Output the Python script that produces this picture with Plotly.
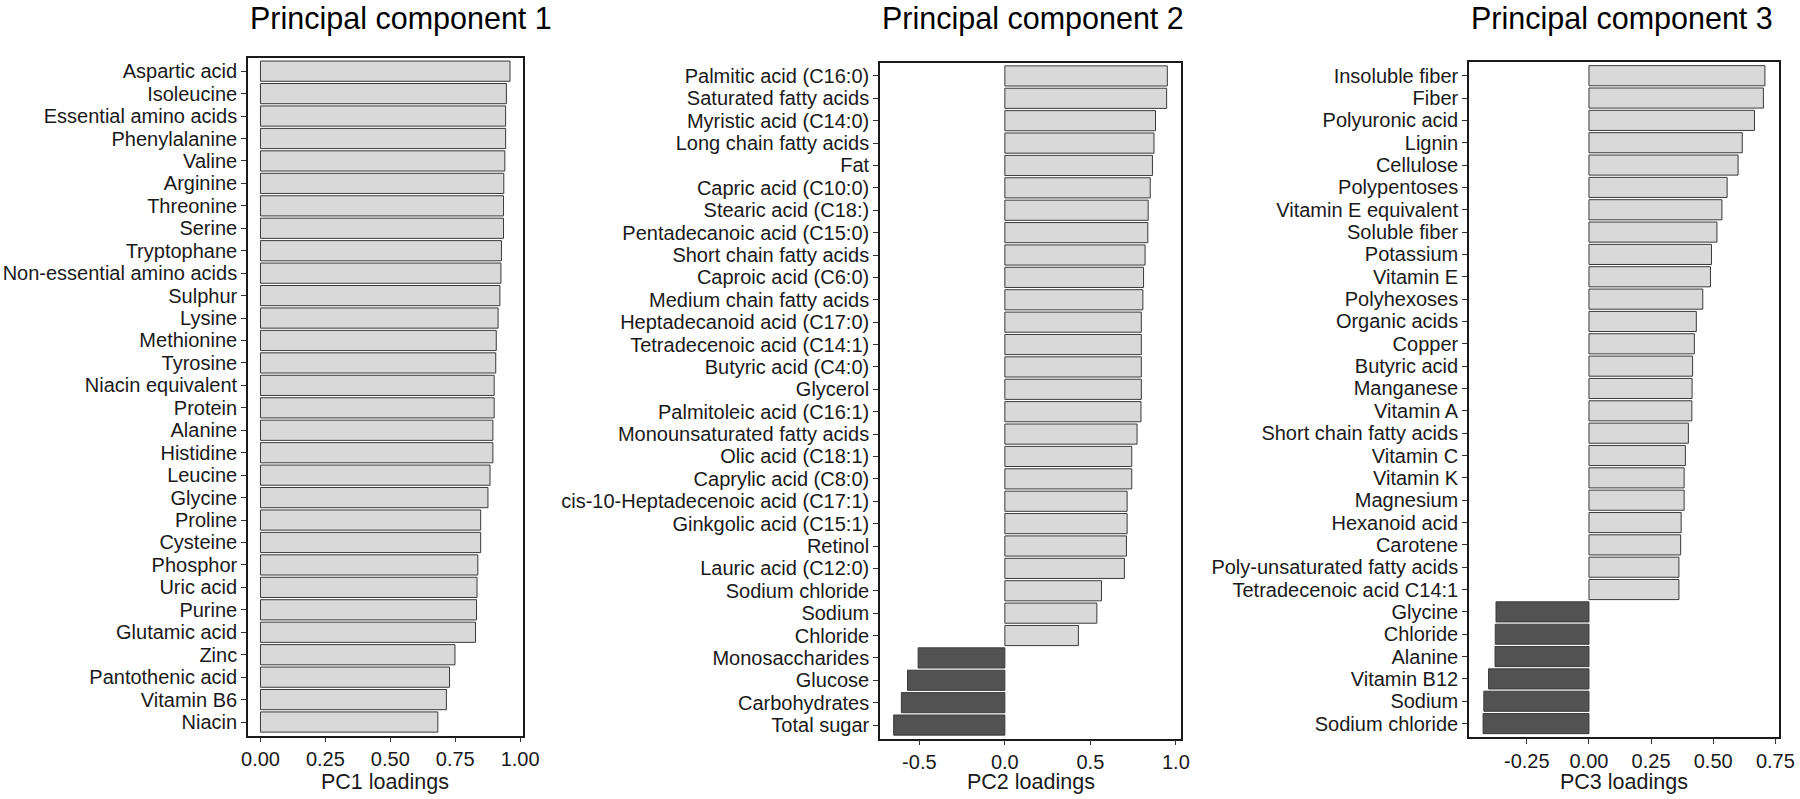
import plotly.graph_objects as go

# ---------------- data ----------------
pc1_labels = ["Aspartic acid", "Isoleucine", "Essential amino acids", "Phenylalanine", "Valine",
              "Arginine", "Threonine", "Serine", "Tryptophane", "Non-essential amino acids",
              "Sulphur", "Lysine", "Methionine", "Tyrosine", "Niacin equivalent",
              "Protein", "Alanine", "Histidine", "Leucine", "Glycine",
              "Proline", "Cysteine", "Phosphor", "Uric acid", "Purine",
              "Glutamic acid", "Zinc", "Pantothenic acid", "Vitamin B6", "Niacin"]
pc1_values = [0.961, 0.947, 0.944, 0.944, 0.941,
              0.937, 0.936, 0.936, 0.928, 0.926,
              0.922, 0.915, 0.908, 0.906, 0.900,
              0.900, 0.895, 0.895, 0.884, 0.876,
              0.848, 0.848, 0.837, 0.834, 0.832,
              0.828, 0.749, 0.728, 0.716, 0.683]

pc2_labels = ["Palmitic acid (C16:0)", "Saturated fatty acids", "Myristic acid (C14:0)",
              "Long chain fatty acids", "Fat", "Capric acid (C10:0)", "Stearic acid (C18:)",
              "Pentadecanoic acid (C15:0)", "Short chain fatty acids", "Caproic acid (C6:0)",
              "Medium chain fatty acids", "Heptadecanoid acid (C17:0)", "Tetradecenoic acid (C14:1)",
              "Butyric acid (C4:0)", "Glycerol", "Palmitoleic acid (C16:1)",
              "Monounsaturated fatty acids", "Olic acid (C18:1)", "Caprylic acid (C8:0)",
              "cis-10-Heptadecenoic acid (C17:1)", "Ginkgolic acid (C15:1)", "Retinol",
              "Lauric acid (C12:0)", "Sodium chloride", "Sodium", "Chloride",
              "Monosaccharides", "Glucose", "Carbohydrates", "Total sugar"]
pc2_values = [0.950, 0.946, 0.881, 0.872, 0.863, 0.850, 0.838, 0.836, 0.820, 0.811,
              0.807, 0.798, 0.798, 0.798, 0.798, 0.796, 0.773, 0.742, 0.742, 0.715,
              0.715, 0.711, 0.699, 0.565, 0.538, 0.430, -0.507, -0.569, -0.605, -0.650]

pc3_labels = ["Insoluble fiber", "Fiber", "Polyuronic acid", "Lignin", "Cellulose",
              "Polypentoses", "Vitamin E equivalent", "Soluble fiber", "Potassium", "Vitamin E",
              "Polyhexoses", "Organic acids", "Copper", "Butyric acid", "Manganese",
              "Vitamin A", "Short chain fatty acids", "Vitamin C", "Vitamin K", "Magnesium",
              "Hexanoid acid", "Carotene", "Poly-unsaturated fatty acids", "Tetradecenoic acid C14:1",
              "Glycine", "Chloride", "Alanine", "Vitamin B12", "Sodium", "Sodium chloride"]
pc3_values = [0.708, 0.702, 0.666, 0.617, 0.600, 0.556, 0.535, 0.515, 0.493, 0.489,
              0.458, 0.432, 0.424, 0.417, 0.415, 0.414, 0.400, 0.388, 0.383, 0.383,
              0.371, 0.369, 0.362, 0.362, -0.374, -0.377, -0.378, -0.404, -0.423, -0.426]

titles = ["Principal component 1", "Principal component 2", "Principal component 3"]
axis_titles = ["PC1 loadings", "PC2 loadings", "PC3 loadings"]

pc1_tickvals = [0.0, 0.25, 0.5, 0.75, 1.0]
pc1_ticktext = ["0.00", "0.25", "0.50", "0.75", "1.00"]
pc2_tickvals = [-0.5, 0.0, 0.5, 1.0]
pc2_ticktext = ["-0.5", "0.0", "0.5", "1.0"]
pc3_tickvals = [-0.25, 0.0, 0.25, 0.5, 0.75]
pc3_ticktext = ["-0.25", "0.00", "0.25", "0.50", "0.75"]

# ---------------- style / layout ----------------
W, H = 1800, 799


def px_x(x):
    return x / W


def px_y(y):
    return 1 - y / H


FONT = "Liberation Sans, Arial, Helvetica, sans-serif"
POS_COLOR = "#d9d9d9"
NEG_COLOR = "#525252"
EDGE = "#3a3a3a"

# panel boxes in page pixels (left, right, top, bottom)
boxes = [(248, 522.5, 57.7, 735.5), (880, 1181, 62.5, 738.5), (1469, 1779, 62.3, 737)]

panels = [
    (pc1_labels, pc1_values, pc1_tickvals, pc1_ticktext),
    (pc2_labels, pc2_values, pc2_tickvals, pc2_ticktext),
    (pc3_labels, pc3_values, pc3_tickvals, pc3_ticktext),
]

fig = go.Figure()
annotations = []
for i, ((labels, values, tv, tt), (l, r, t, b)) in enumerate(zip(panels, boxes)):
    n = i + 1
    xa = "x" if n == 1 else f"x{n}"
    ya = "y" if n == 1 else f"y{n}"
    colors = [POS_COLOR if v >= 0 else NEG_COLOR for v in values]
    fig.add_trace(go.Bar(
        x=values, y=labels, orientation="h", xaxis=xa, yaxis=ya,
        marker=dict(color=colors, line=dict(color=EDGE, width=1)),
        width=0.9, showlegend=False,
    ))
    lo = min(0, min(values))
    hi = max(0, max(values))
    span = hi - lo
    xrange = [lo - 0.05 * span, hi + 0.05 * span]
    k = len(labels)
    axis_common = dict(showline=True, linecolor="#1a1a1a", linewidth=1.6, mirror=True,
                       ticks="outside", ticklen=5, tickwidth=1.3, tickcolor="#333333",
                       showgrid=False, zeroline=False, automargin=False,
                       tickfont=dict(family=FONT, size=20, color="#1a1a1a"))
    fig.update_layout(**{
        ("xaxis" if n == 1 else f"xaxis{n}"): dict(
            domain=[px_x(l), px_x(r)], anchor=ya, range=xrange,
            tickmode="array", tickvals=tv, ticktext=tt, **axis_common),
        ("yaxis" if n == 1 else f"yaxis{n}"): dict(
            domain=[px_y(b), px_y(t)], anchor=xa, type="category",
            categoryorder="array", categoryarray=labels,
            tickmode="array", tickvals=labels, ticktext=labels,
            range=[k - 1 + 0.6, -0.6], **axis_common),
    })
    annotations.append(dict(text=titles[i], x=px_x(l), y=px_y(18.5), xref="paper", yref="paper",
                            xanchor="left", yanchor="middle", showarrow=False,
                            font=dict(family=FONT, size=30.5, color="black")))
    annotations.append(dict(text=axis_titles[i], x=px_x((l + r) / 2), y=px_y(782),
                            xref="paper", yref="paper", xanchor="center", yanchor="middle",
                            showarrow=False, font=dict(family=FONT, size=21.5, color="#1a1a1a")))

fig.update_layout(width=W, height=H, margin=dict(l=0, r=0, t=0, b=0),
                  paper_bgcolor="white", plot_bgcolor="white", annotations=annotations,
                  bargap=0.1)
fig.write_html("out.html", config={"displayModeBar": False},
               post_script="document.body.style.margin='0';")
